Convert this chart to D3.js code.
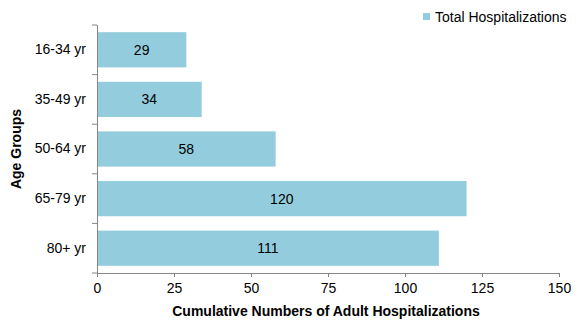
<!DOCTYPE html>
<html><head><meta charset="utf-8">
<script src="https://cdn.jsdelivr.net/npm/d3@7"></script>
<style>
body{margin:0;background:#fff;}
text{font-family:"Liberation Sans",Arial,sans-serif;}
</style></head>
<body>
<svg id="c" width="579" height="324"></svg>
<script>
const categories = ["16-34 yr","35-49 yr","50-64 yr","65-79 yr","80+ yr"];
const values = [29,34,58,120,111];
const xTicks = [0,25,50,75,100,125,150];
const seriesName = "Total Hospitalizations";
const xTitle = "Cumulative Numbers of Adult Hospitalizations";
const yTitle = "Age Groups";

const svg = d3.select("#c");
const m = {left:97, right:20, top:25, bottom:51};
const x = d3.scaleLinear().domain([0,150]).range([m.left, 559]);
const y = d3.scaleBand().domain(categories).range([m.top, 273]).paddingInner(0.29).paddingOuter(0.145);
const barColor = "#93CDDD", axisColor = "#868686";
const FS = 14;

svg.selectAll("rect.bar").data(values).join("rect").attr("class","bar")
  .attr("x", x(0)).attr("y",(d,i)=>y(categories[i]))
  .attr("width", d=>x(d)-x(0)).attr("height", y.bandwidth()).attr("fill", barColor);

svg.selectAll("text.val").data(values).join("text").attr("class","val")
  .attr("x", d=>(x(0)+x(d))/2).attr("y",(d,i)=>y(categories[i])+y.bandwidth()/2)
  .attr("dy","0.35em").attr("text-anchor","middle").attr("font-size",FS).attr("fill","#000").text(d=>d);

const xa = svg.append("g").attr("transform",`translate(0,273)`)
  .call(d3.axisBottom(x).tickValues(xTicks).tickSize(4).tickPadding(6));
const ya = svg.append("g").attr("transform",`translate(${x(0)},0)`)
  .call(d3.axisLeft(y).tickSize(0).tickPadding(11));
const bounds = categories.map(c=>y(c)-y.step()*y.paddingInner()/2).concat([273]);
svg.append("g").selectAll("line").data(bounds).join("line")
  .attr("x1",x(0)-5).attr("x2",x(0)).attr("y1",d=>d).attr("y2",d=>d).attr("stroke",axisColor);
[xa,ya].forEach(a=>{
  a.selectAll("path,line").attr("stroke",axisColor);
  a.selectAll("text").attr("font-size",FS).attr("fill","#000").attr("font-family","Liberation Sans, Arial, sans-serif");
});
ya.select(".domain").attr("d",`M0.5,25V273.5`);

svg.append("text").attr("x",326).attr("y",316).attr("text-anchor","middle")
  .attr("font-size",FS).attr("font-weight","bold").text(xTitle);
svg.append("text").attr("transform","translate(21,149) rotate(-90)").attr("text-anchor","middle")
  .attr("font-size",FS).attr("font-weight","bold").text(yTitle);

const lg = svg.append("g").attr("transform","translate(423,12)");
lg.append("rect").attr("width",7).attr("height",7).attr("y",1).attr("fill",barColor);
lg.append("text").attr("x",12).attr("y",5).attr("dy","0.35em").attr("font-size",FS).text(seriesName);
</script>
</body></html>
